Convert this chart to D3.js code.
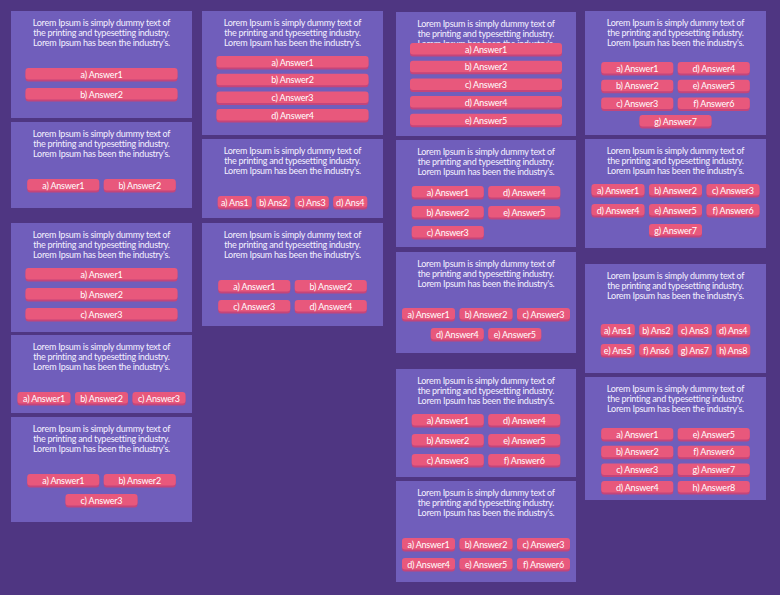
<!DOCTYPE html>
<html>
<head>
<meta charset="utf-8">
<script src="https://cdn.jsdelivr.net/npm/d3@7"></script>
<style>
  html, body { margin: 0; padding: 0; background: #4f3682; }
  svg { display: block; }
</style>
</head>
<body>
<div id="canva"></div>
<script>
// question text, same on every card
const questionLines = [
  "Lorem Ipsum is simply dummy text of",
  "the printing and typesetting industry.",
  "Lorem Ipsum has been the industry's."
];

// answer labels
const longAnswers = ["a) Answer1", "b) Answer2", "c) Answer3", "d) Answer4",
                     "e) Answer5", "f) Answer6", "g) Answer7", "h) Answer8"];
const shortAnswers = ["a) Ans1", "b) Ans2", "c) Ans3", "d) Ans4",
                      "e) Ans5", "f) Ans6", "g) Ans7", "h) Ans8"];

// how many answers each card has, and which label set it uses
const answerCounts = [2, 2, 3, 3, 3, 4, 4, 4, 5, 5, 5, 6, 6, 7, 7, 8, 8];
const answerSets   = ["long", "long", "long", "long", "long", "long", "short", "long",
                      "long", "long", "long", "long", "long", "long", "long", "short", "long"];

// layout of each card: box, grid of buttons
// order "row": fill rows of `cols`, last partial row centred
// order "col": fill `rows` per column, leftovers in a centred row below
const cards = [
  { x: 11,  y: 11,  w: 181, h: 107, cols: 1, order: "row", bw: 152, by: 68,  pitch: 20 },
  { x: 11,  y: 122, w: 181, h: 86,  cols: 2, order: "row", bw: 72,  by: 179, pitch: 20 },
  { x: 11,  y: 223, w: 181, h: 109, cols: 1, order: "row", bw: 152, by: 268, pitch: 20 },
  { x: 11,  y: 335, w: 181, h: 78,  cols: 3, order: "row", bw: 53,  by: 392, pitch: 20 },
  { x: 11,  y: 417, w: 181, h: 105, cols: 2, order: "row", bw: 72,  by: 474, pitch: 20 },
  { x: 202, y: 11,  w: 181, h: 124, cols: 1, order: "row", bw: 152, by: 56,  pitch: 17.7 },
  { x: 202, y: 139, w: 181, h: 79,  cols: 4, order: "row", bw: 34,  by: 196, pitch: 20 },
  { x: 202, y: 223, w: 181, h: 103, cols: 2, order: "row", bw: 72,  by: 280, pitch: 20 },
  { x: 396, y: 12,  w: 180, h: 124, cols: 1, order: "row", bw: 152, by: 43,  pitch: 17.7 },
  { x: 396, y: 140, w: 180, h: 107, cols: 2, order: "col", rows: 3, bw: 72, by: 186, pitch: 20 },
  { x: 396, y: 252, w: 180, h: 101, cols: 3, order: "row", bw: 53,  by: 308, pitch: 20 },
  { x: 396, y: 369, w: 180, h: 108, cols: 2, order: "col", rows: 3, bw: 72, by: 414, pitch: 20 },
  { x: 396, y: 481, w: 180, h: 101, cols: 3, order: "row", bw: 53,  by: 538, pitch: 20 },
  { x: 585, y: 11,  w: 181, h: 124, cols: 2, order: "col", rows: 3, bw: 72, by: 62, pitch: 17.7 },
  { x: 585, y: 139, w: 181, h: 109, cols: 3, order: "row", bw: 53,  by: 184, pitch: 20 },
  { x: 585, y: 264, w: 181, h: 109, cols: 4, order: "row", bw: 34,  by: 324, pitch: 20 },
  { x: 585, y: 377, w: 181, h: 123, cols: 2, order: "col", rows: 4, bw: 72, by: 428, pitch: 17.7 }
];

const W = 780, H = 595;
const gap = 4.5;
const btnH = 11.5;
const font = "Lato, 'Liberation Sans', sans-serif";

let svg = d3
  .select("#canva")
  .append("svg")
  .attr("width", W)
  .attr("height", H);

svg.append("rect")
  .attr("width", W)
  .attr("height", H)
  .attr("fill", "#4f3682");

// band scale for a row of k buttons, centred in the card
function rowScale(card, k) {
  let total = k * card.bw + (k - 1) * gap;
  let cx = card.x + card.w / 2;
  return d3.scaleBand()
    .domain(d3.range(k))
    .range([cx - total / 2, cx + total / 2])
    .paddingInner(k > 1 ? gap / (card.bw + gap) : 0)
    .paddingOuter(0);
}

// place buttons of one card
function placeButtons(card, labels) {
  let n = labels.length;
  let y = d3.scaleLinear().domain([0, 1]).range([card.by, card.by + card.pitch]);
  let out = [];
  if (card.order === "row") {
    let fullRows = Math.floor(n / card.cols);
    let full = rowScale(card, card.cols);
    labels.forEach((label, i) => {
      let r = Math.floor(i / card.cols);
      let c = i % card.cols;
      let x = full;
      if (r >= fullRows) x = rowScale(card, n - fullRows * card.cols);
      out.push({ label: label, x: x(c), y: y(r), w: x.bandwidth() });
    });
  } else {
    let inGrid = Math.min(n, card.cols * card.rows);
    let full = rowScale(card, card.cols);
    let rest = rowScale(card, Math.max(1, n - inGrid));
    labels.forEach((label, i) => {
      if (i < inGrid) {
        let c = Math.floor(i / card.rows);
        let r = i % card.rows;
        out.push({ label: label, x: full(c), y: y(r), w: full.bandwidth() });
      } else {
        let c = i - inGrid;
        out.push({ label: label, x: rest(c), y: y(card.rows), w: rest.bandwidth() });
      }
    });
  }
  return out;
}

let lineY = d3.scaleLinear().domain([0, 1]).range([11, 21.3]);

cards.forEach((card, ci) => {
  let set = answerSets[ci] === "short" ? shortAnswers : longAnswers;
  let labels = set.slice(0, answerCounts[ci]);
  let g = svg.append("g");

  g.append("rect")
    .attr("x", card.x)
    .attr("y", card.y)
    .attr("width", card.w)
    .attr("height", card.h)
    .attr("fill", "#705ebb");

  g.selectAll("text.q")
    .data(questionLines)
    .enter()
    .append("text")
    .attr("class", "q")
    .attr("x", card.x + card.w / 2)
    .attr("y", (d, i) => card.y + lineY(i))
    .attr("text-anchor", "middle")
    .attr("dominant-baseline", "central")
    .attr("fill", "#f4f1ff")
    .style("font-family", font)
    .style("font-size", "9px")
    .style("letter-spacing", "-0.25px")
    .text((d) => d);

  let btns = g.selectAll("g.btn")
    .data(placeButtons(card, labels))
    .enter()
    .append("g")
    .attr("class", "btn");

  btns.append("rect")
    .attr("x", (d) => d.x)
    .attr("y", (d) => d.y + 2)
    .attr("width", (d) => d.w)
    .attr("height", btnH)
    .attr("rx", 3)
    .attr("fill", "#c4457a");

  btns.append("rect")
    .attr("x", (d) => d.x)
    .attr("y", (d) => d.y)
    .attr("width", (d) => d.w)
    .attr("height", btnH)
    .attr("rx", 3)
    .attr("fill", "#e8587c");

  btns.append("text")
    .attr("x", (d) => d.x + d.w / 2)
    .attr("y", (d) => d.y + btnH / 2 + 0.5)
    .attr("text-anchor", "middle")
    .attr("dominant-baseline", "central")
    .attr("fill", "#ffffff")
    .style("font-family", font)
    .style("font-size", "9px")
    .style("letter-spacing", "-0.2px")
    .text((d) => d.label);
});
</script>
</body>
</html>
